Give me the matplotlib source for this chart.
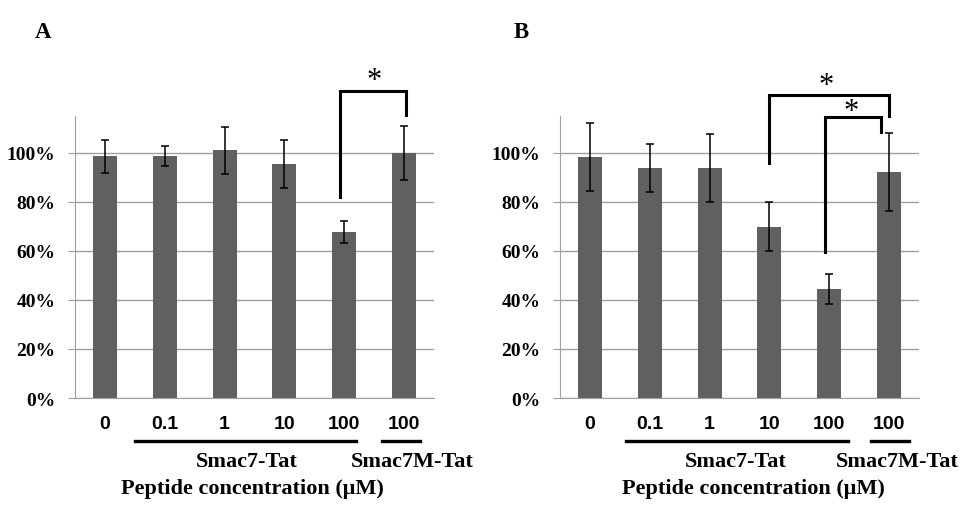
import matplotlib
matplotlib.use("Agg")
import matplotlib.pyplot as plt
import numpy as np

categories = ["0", "0.1", "1", "10", "100", "100"]
values_A = [98.5, 98.7, 101.0, 95.5, 67.8, 100.0]
errors_A = [6.8, 4.1, 9.5, 9.7, 4.5, 11.0]
values_B = [98.3, 93.9, 93.9, 69.9, 44.4, 92.2]
errors_B = [14.0, 9.7, 13.8, 9.9, 6.0, 16.0]
yticks = [0, 20, 40, 60, 80, 100]
ytick_labels = ["0%", "20%", "40%", "60%", "80%", "100%"]
group_labels = ["Smac7-Tat", "Smac7M-Tat"]
xlabel = "Peptide concentration (\u03bcM)"
panel_letters = ["A", "B"]

BAR = "#606060"
GRID = "#a0a0a0"
SERIF = ["Liberation Serif", "DejaVu Serif"]
SANS = ["Liberation Sans", "DejaVu Sans"]

fig = plt.figure(figsize=(9.6, 5.1), dpi=100)

def panel(left, vals, errs, brackets, letter, lay):
    ax = fig.add_axes([left, 0.2176, 0.374, 0.5530])
    x = np.arange(len(vals))
    ax.set_axisbelow(True)
    ax.yaxis.grid(True, color=GRID, linewidth=1.0)
    ax.bar(x, vals, width=0.4, color=BAR, zorder=2)
    ax.errorbar(x, vals, yerr=errs, fmt="none", ecolor="black",
                elinewidth=1.1, capsize=3, capthick=1.1, zorder=3)
    ax.set_xlim(-0.5, 5.5)
    ax.set_ylim(0, 115)
    ax.set_yticks(yticks)
    ax.set_yticklabels(ytick_labels, fontfamily=SERIF, fontweight="bold", fontsize=14)
    ax.set_xticks(x)
    ax.set_xticklabels(categories, fontfamily=SANS, fontweight="bold", fontsize=14)
    ax.tick_params(axis="x", length=0, pad=12)
    ax.tick_params(axis="y", length=5, color=GRID, pad=9)
    for s in ["top", "right"]:
        ax.spines[s].set_visible(False)
    ax.spines["left"].set_color(GRID)
    ax.spines["bottom"].set_color(GRID)
    tr = ax.get_xaxis_transform()
    u1, u2, g1, g2, xl, lx = lay
    ax.plot(u1, [-0.152, -0.152], color="black", lw=2.4, transform=tr, clip_on=False)
    ax.plot(u2, [-0.152, -0.152], color="black", lw=2.4, transform=tr, clip_on=False)
    ax.text(g1, -0.222, group_labels[0], transform=tr, ha="center", va="center",
            fontfamily=SERIF, fontweight="bold", fontsize=16)
    ax.text(g2, -0.222, group_labels[1], transform=tr, ha="center", va="center",
            fontfamily=SERIF, fontweight="bold", fontsize=16)
    ax.text(xl, -0.318, xlabel, transform=tr, ha="center", va="center",
            fontfamily=SERIF, fontweight="bold", fontsize=16)
    ax.text(lx, 1.30, letter, transform=tr, ha="center", va="center",
            fontfamily=SERIF, fontweight="bold", fontsize=16.5)
    for (x1, x2, y1, y2, ytop, xs, ys) in brackets:
        ax.plot([x1, x1, x2, x2], [y1, ytop, ytop, y2], color="black", lw=2.2,
                clip_on=False, zorder=4, solid_joinstyle="miter")
        ax.text(xs, ys, "*", ha="center", va="center", fontfamily=SERIF,
                fontsize=22, clip_on=False)
    return ax

brA = [(3.93, 5.03, 82, 115.5, 125, 4.5, 129.5)]
brB = [(3.0, 5.0, 96, 114.8, 123.7, 3.95, 127.5),
       (3.93, 4.87, 59.6, 108.4, 114.6, 4.37, 117)]
layA = ([0.5, 4.2], [4.63, 5.26], 2.37, 5.14, 2.47, -1.03)
layB = ([0.61, 4.32], [4.69, 5.34], 2.445, 5.14, 2.73, -1.14)
panel(0.0781, values_A, errors_A, brA, panel_letters[0], layA)
panel(0.5833, values_B, errors_B, brB, panel_letters[1], layB)

fig.savefig("out.png", dpi=100, facecolor="white")
